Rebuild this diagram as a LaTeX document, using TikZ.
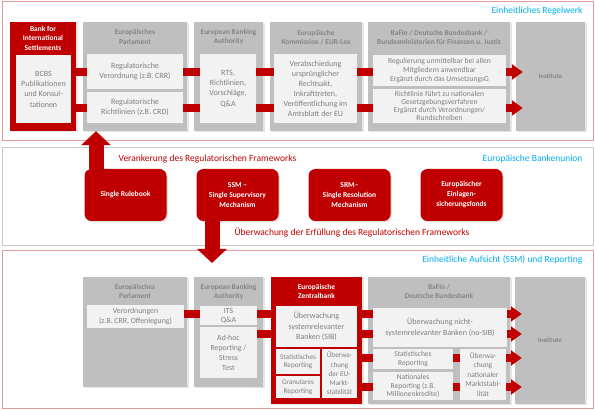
\documentclass[tikz,border=0pt]{standalone}
\usepackage{fontspec}
\setmainfont{Carlito}
\usepackage{xcolor}
\usetikzlibrary{arrows.meta, shadows}
\definecolor{bankred}{HTML}{C00000}
\definecolor{colgrey}{HTML}{BFBFBF}
\definecolor{boxgrey}{HTML}{F2F2F2}
\definecolor{txtgrey}{HTML}{7F7F7F}
\definecolor{hdrgrey}{HTML}{858585}
\definecolor{titlecyan}{HTML}{00B0F0}
\definecolor{panelred}{HTML}{E39A9A}
\definecolor{panelgrey}{HTML}{C8C8C8}
\begin{document}
\begin{tikzpicture}[
  x=1pt, y=-1pt,
  font=\fontsize{8}{10.3}\selectfont,
  panel/.style={draw, fill=white, line width=0.8pt, inner sep=0pt,
                drop shadow={opacity=0.15, shadow xshift=1pt, shadow yshift=-1.5pt}},
  col/.style={fill=colgrey, inner sep=0pt, minimum height=109pt,
              drop shadow={opacity=0.2, shadow xshift=1.5pt, shadow yshift=-1.5pt}},
  redcol/.style={col, fill=bankred},
  inbox/.style={fill=boxgrey, inner sep=0pt, align=center, text=txtgrey},
  hdr/.style={font=\fontsize{7.4}{9.5}\selectfont\bfseries, text=hdrgrey, align=center},
  redhdr/.style={hdr, text=white},
  union/.style={fill=bankred, rounded corners=7pt, minimum width=82pt, minimum height=52pt,
                align=center, text=white, font=\fontsize{7.5}{10}\selectfont\bfseries,
                drop shadow={opacity=0.25, shadow xshift=1.5pt, shadow yshift=-1.5pt}},
  bar/.style={draw=bankred, line width=8pt},
  arr/.style={bar, -{Triangle[length=11pt, width=15pt]}},
  bigarrow/.style={draw=bankred, line width=15pt, -{Triangle[length=14pt, width=29pt]}},
  title/.style={font=\fontsize{9.5}{11}\selectfont, text=titlecyan, anchor=east},
  note/.style={font=\fontsize{9.5}{11}\selectfont, text=bankred},
]
\useasboundingbox (0,0) rectangle (595,411);
% Panels
\node[panel, draw=panelred, minimum width=591pt, minimum height=139pt] (regelwerk) at (297.5,70.5) {};
\node[panel, draw=panelgrey, minimum width=591pt, minimum height=98pt] (bankenunion) at (297.5,196) {};
\node[panel, draw=panelred, minimum width=591pt, minimum height=158pt] (aufsicht) at (297.5,329) {};
\node[title] (regelwerkt) at (586,11) {Einheitliches Regelwerk};
\node[title] (bankenuniont) at (586,159) {Europäische Bankenunion};
\node[title] (aufsichtt) at (586,260) {Einheitliche Aufsicht (SSM) und Reporting};
% row heights for the red bars
\coordinate (ya) at (0,72);
\coordinate (yb) at (0,108);
\coordinate (y1) at (0,314);
\coordinate (y2) at (0,334);
\coordinate (y3) at (0,358);
\coordinate (y4) at (0,387);
% Stage 1: Einheitliches Regelwerk
\node[redcol, minimum width=66pt] (bis) at (43,76.5) {};
\node[col, minimum width=104pt] (parl) at (135,76.5) {};
\node[col, minimum width=69pt] (eba) at (228.5,76.5) {};
\node[col, minimum width=92pt] (kom) at (316,76.5) {};
\node[col, minimum width=142pt] (baf) at (439,76.5) {};
\node[col, minimum width=69pt, font=\fontsize{6.8}{8}\selectfont\bfseries, text=hdrgrey] (inst) at (550.5,76.5) {Institute};
\node[redhdr] (bish) at (43,38) {Bank for\\International\\Settlements};
\node[hdr] (parlh) at (135,37) {Europäisches\\Parlament};
\node[hdr] (ebah) at (228.5,37) {European Banking\\Authority};
\node[hdr] (komh) at (316,37.5) {Europäische\\Kommission / EUR-Lex};
\node[hdr] (bafh) at (439,37.5) {BaFin / Deutsche Bundesbank /\\Bundesministerien für Finanzen u. Justiz};
\node[inbox, minimum width=55pt, minimum height=68pt] (bcbs) at (43.5,89) {BCBS\\Publikationen\\und Konsul-\\tationen};
\node[inbox, minimum width=96pt, minimum height=35pt] (vo) at (135,71.5) {Regulatorische\\Verordnung (z.B. CRR)};
\node[inbox, minimum width=96pt, minimum height=31pt] (rl) at (135,107.5) {Regulatorische\\Richtlinien (z.B. CRD)};
\node[inbox, minimum width=56pt, minimum height=69pt] (rts) at (228,88.5) {RTS,\\Richtlinien,\\Vorschläge,\\Q\&A};
\node[inbox, minimum width=83pt, minimum height=69pt, font=\fontsize{8}{10}\selectfont] (verab) at (315.5,88.5)
      {Verabschiedung\\ursprünglicher\\Rechtsakt,\\Inkrafttreten,\\Veröffentlichung im\\Amtsblatt der EU};
\node[inbox, minimum width=133pt, minimum height=31pt, font=\fontsize{7.6}{9}\selectfont] (reg) at (439.5,70.5)
      {Regulierung unmittelbar bei allen\\Mitgliedern anwendbar\\Ergänzt durch das UmsetzungsG};
\node[inbox, minimum width=133pt, minimum height=34pt, font=\fontsize{7.6}{8.2}\selectfont] (rlb) at (439.5,106)
      {Richtlinie führt zu nationalen\\Gesetzgebungsverfahren\\Ergänzt durch Verordnungen/\\Rundschreiben};
% Stage 1: bars
\draw[bar] (bcbs.east |- ya) -- (vo.west |- ya);
\draw[bar] (bcbs.east |- yb) -- (rl.west |- yb);
\draw[bar] (vo.east |- ya) -- (rts.west |- ya);
\draw[bar] (rl.east |- yb) -- (rts.west |- yb);
\draw[bar] (rts.east |- ya) -- (verab.west |- ya);
\draw[bar] (rts.east |- yb) -- (verab.west |- yb);
\draw[bar] (verab.east |- ya) -- (reg.west |- ya);
\draw[bar] (verab.east |- yb) -- (rlb.west |- yb);
\draw[arr] (reg.east |- ya) -- ([xshift=7pt]inst.west |- ya);
\draw[arr] (rlb.east |- yb) -- ([xshift=7pt]inst.west |- yb);
% Stage 2: Europäische Bankenunion
\node[note] (verank) at (207.5,159) {Verankerung des Regulatorischen Frameworks};
\node[union] (rbook) at (125.5,195) {Single Rulebook};
\node[union] (ssm) at (237.5,195) {SSM --\\Single Supervisory\\Mechanism};
\node[union] (srm) at (349.5,195) {SRM--\\Single Resolution\\Mechanism};
\node[union] (edis) at (461.5,195) {Europäischer\\Einlagen-\\sicherungsfonds};
\node[note] (ueberw) at (352,233) {Überwachung der Erfüllung des Regulatorischen Frameworks};
\coordinate (upx) at (96,0);
\coordinate (dntip) at (212,263);
\draw[bigarrow] (rbook.north -| upx) -- (parl.south -| upx);
\draw[bigarrow] (ssm.south -| dntip) -- (dntip);
% Stage 3: Einheitliche Aufsicht
\node[col, minimum width=104pt, minimum height=110pt] (lparl) at (135,332) {};
\node[col, minimum width=69pt, minimum height=110pt] (leba) at (228.5,332) {};
\node[redcol, minimum width=91pt, minimum height=127pt] (ezb) at (316.5,340.5) {};
\node[col, minimum width=142pt, minimum height=127pt] (lbaf) at (439,340.5) {};
\node[col, minimum width=70pt, minimum height=127pt, font=\fontsize{6.8}{8}\selectfont\bfseries, text=hdrgrey] (linst) at (550,340.5) {Institute};
\node[hdr] (lparlh) at (135,291.5) {Europäisches\\Parlament};
\node[hdr] (lebah) at (228.5,292) {European Banking\\Authority};
\node[redhdr] (ezbh) at (316.5,291.5) {Europäische\\Zentralbank};
\node[hdr] (lbafh) at (439,291.5) {BaFin /\\Deutsche Bundesbank};
\node[inbox, minimum width=97pt, minimum height=23pt, font=\fontsize{7.8}{10}\selectfont] (lvo) at (135.5,316.5) {Verordnungen\\(z.B. CRR, Offenlegung)};
\node[inbox, minimum width=57pt, minimum height=19pt, font=\fontsize{7.8}{9}\selectfont] (its) at (228.5,315.5) {ITS\\Q\&A};
\node[inbox, minimum width=57pt, minimum height=51pt, font=\fontsize{7.8}{10}\selectfont] (adhoc) at (228.5,352.5) {Ad-hoc\\Reporting /\\Stress\\Test};
\node[inbox, minimum width=81pt, minimum height=41pt] (sib) at (316.5,326.5) {Überwachung\\systemrelevanter\\Banken (SIB)};
\node[inbox, minimum width=44pt, minimum height=25pt, font=\fontsize{7.2}{8.5}\selectfont] (estat) at (298,361.5) {Statistisches\\Reporting};
\node[inbox, minimum width=44pt, minimum height=22pt, font=\fontsize{7.2}{8.5}\selectfont] (egran) at (298,387) {Granulares\\Reporting};
\node[inbox, minimum width=35pt, minimum height=49pt, font=\fontsize{7.2}{9.2}\selectfont] (emkt) at (339.5,373.5) {Überwa-\\chung\\der EU-\\Markt-\\stabilität};
\node[inbox, minimum width=134pt, minimum height=39pt] (nsib) at (440,327.5) {Überwachung nicht-\\systemrelevanter Banken (no-SIB)};
\node[inbox, minimum width=80pt, minimum height=20pt, font=\fontsize{7.5}{8.5}\selectfont] (bstat) at (413,359) {Statistisches\\Reporting};
\node[inbox, minimum width=80pt, minimum height=28pt, font=\fontsize{7.5}{8.5}\selectfont] (bnat) at (413,386) {Nationales\\Reporting (z.B.\\Millionenkredite)};
\node[inbox, minimum width=46pt, minimum height=51pt, font=\fontsize{7.5}{9.5}\selectfont] (bmkt) at (483,374.5) {Überwa-\\chung\\nationaler\\Marktstabi-\\lität};
% Stage 3: bars
\draw[bar] (lvo.east |- y1) -- (its.west |- y1);
\draw[bar] (its.east |- y1) -- (sib.west |- y1);
\draw[bar] (adhoc.east |- y2) -- (sib.west |- y2);
\draw[bar] (sib.east |- y1) -- (nsib.west |- y1);
\draw[bar] (sib.east |- y2) -- (nsib.west |- y2);
\draw[bar] (emkt.east |- y3) -- (bstat.west |- y3);
\draw[bar] (emkt.east |- y4) -- (bnat.west |- y4);
\draw[bar] (bstat.east |- y3) -- (bmkt.west |- y3);
\draw[bar] (bnat.east |- y4) -- (bmkt.west |- y4);
\draw[arr] (nsib.east |- y1) -- ([xshift=7pt]linst.west |- y1);
\draw[arr] (nsib.east |- y2) -- ([xshift=7pt]linst.west |- y2);
\draw[arr] (bmkt.east |- y3) -- ([xshift=7pt]linst.west |- y3);
\draw[arr] (bmkt.east |- y4) -- ([xshift=7pt]linst.west |- y4);
\end{tikzpicture}
\end{document}
